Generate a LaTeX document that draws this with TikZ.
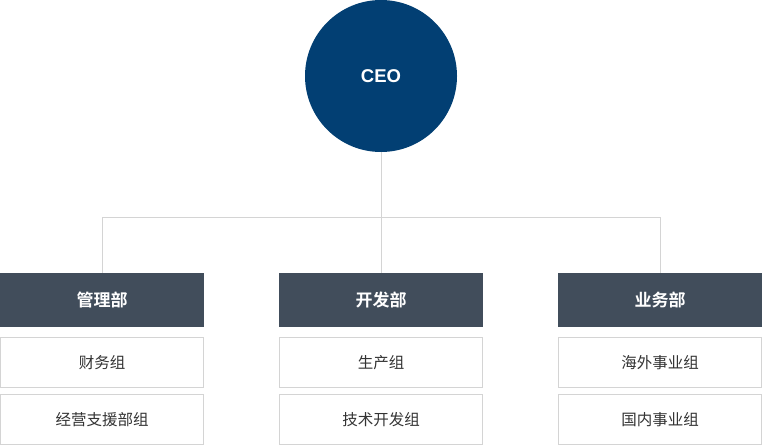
\documentclass[tikz,border=0pt]{standalone}
\usepackage{fontspec}
\setmainfont{Noto Sans CJK SC}[BoldFont={Noto Sans CJK SC Bold}]
\newfontfamily\latinfont{Liberation Sans}
\usetikzlibrary{positioning}
\definecolor{ceoblue}{HTML}{023F73}
\definecolor{deptgray}{HTML}{414D5B}
\definecolor{linegray}{HTML}{D4D4D4}
\definecolor{textgray}{HTML}{333333}

\begin{document}
\begin{tikzpicture}[
    x=1pt, y=-1pt,
    ceo/.style={circle, fill=ceoblue, minimum size=152pt, inner sep=0pt, text=white, font=\latinfont\fontsize{18.5}{20}\selectfont\bfseries},
    dept/.style={fill=deptgray, minimum width=204pt, minimum height=54pt, inner sep=0pt, text=white, font=\fontsize{17}{19}\selectfont\bfseries},
    team/.style={draw=linegray, line width=1pt, fill=white, minimum width=203pt, minimum height=50pt, inner sep=0pt, text=textgray, font=\fontsize{15.5}{17}\selectfont},
    link/.style={draw=linegray, line width=1pt}
  ]
    \useasboundingbox (0,0) rectangle (762,447);

    \node[ceo] (boss) at (381,76) {CEO};
    \coordinate (bus) at (381,217);

    \node[dept] (mgmt) at (102,300) {管理部};
    \node[dept] (dev) at (381,300) {开发部};
    \node[dept] (sales) at (660,300) {业务部};

    \node[team, below=10pt of mgmt] (finance) {财务组};
    \node[team, below=6pt of finance] (support) {经营支援部组};
    \node[team, below=10pt of dev] (prod) {生产组};
    \node[team, below=6pt of prod] (tech) {技术开发组};
    \node[team, below=10pt of sales] (overseas) {海外事业组};
    \node[team, below=6pt of overseas] (domestic) {国内事业组};

    \draw[link] (boss.south) -- (bus);
    \draw[link] (mgmt.north) -- (mgmt.north |- bus) -- (sales.north |- bus) -- (sales.north);
    \draw[link] (bus) -- (dev.north);
  \end{tikzpicture}
\end{document}
